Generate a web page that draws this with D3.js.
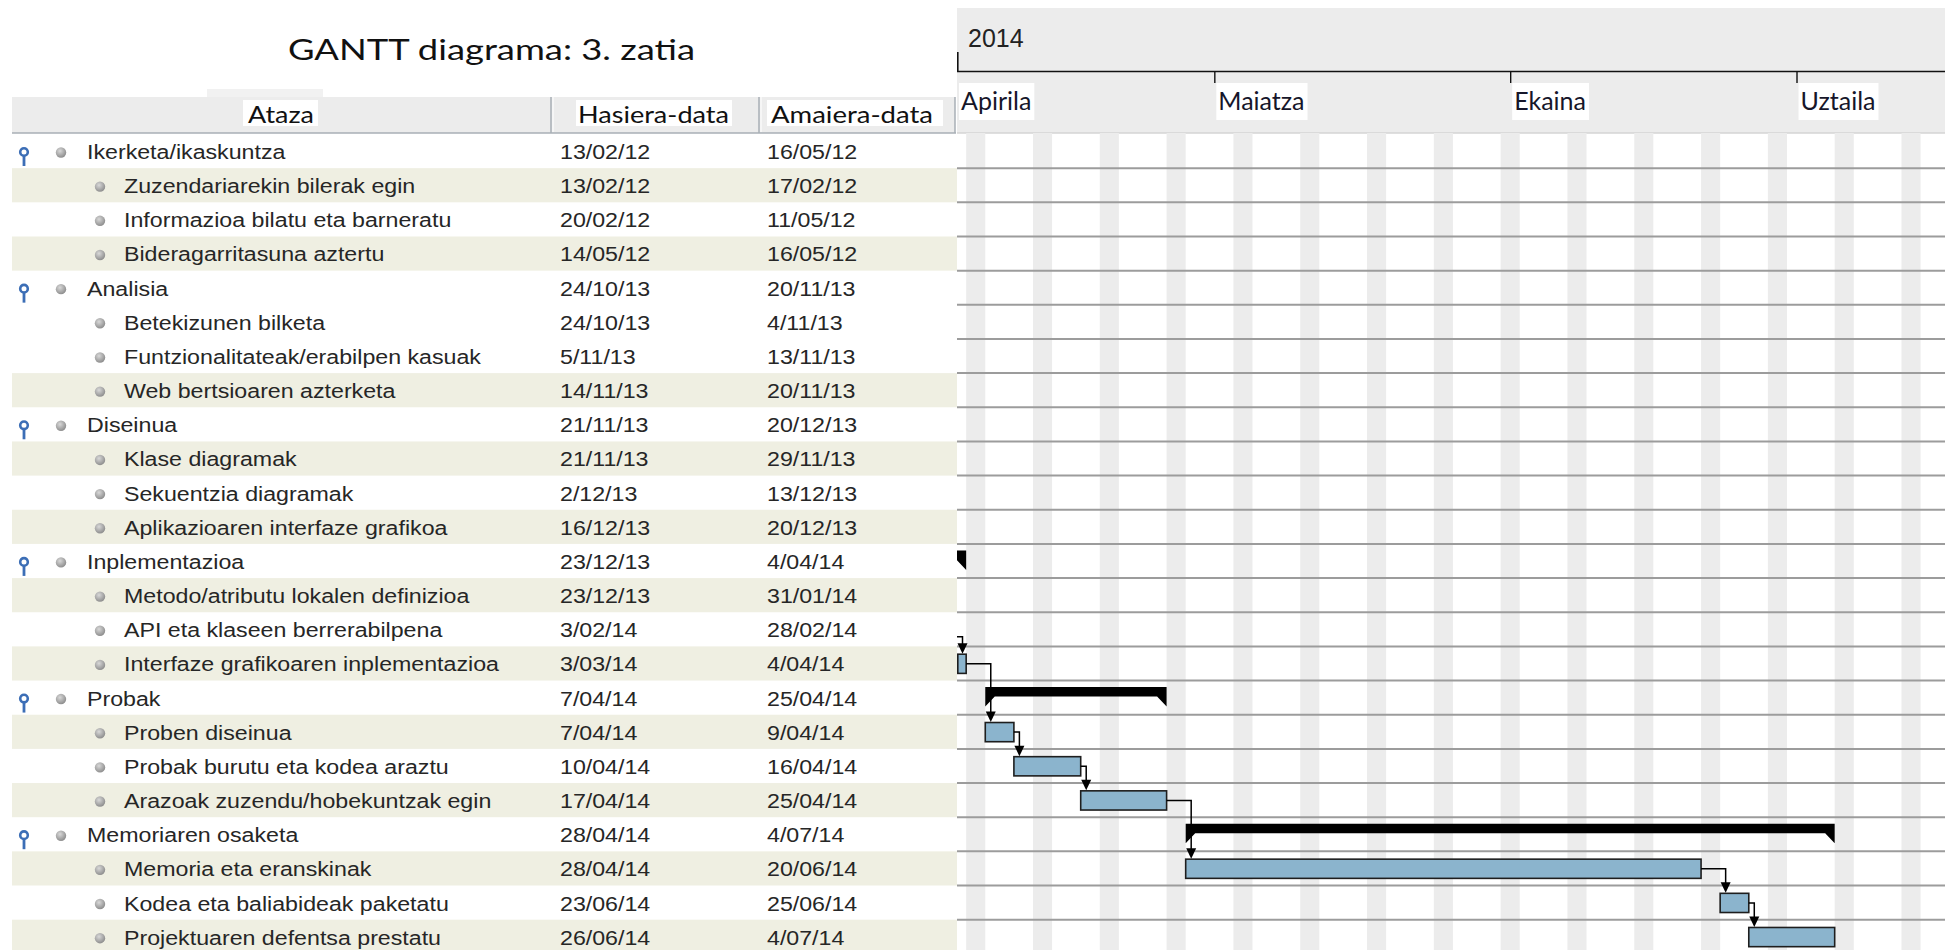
<!DOCTYPE html>
<html>
<head>
<meta charset="utf-8">
<script src="https://cdn.jsdelivr.net/npm/d3@7"></script>
<style>
  body { margin: 0; background: #fff; overflow: hidden; }
  svg { display: block; }
</style>
</head>
<body>
<script>
const width = 1945, height = 950;

// ---- data ----
const title = "GANTT diagrama: 3. zatia";
const columnHeaders = ["Ataza", "Hasiera-data", "Amaiera-data"];

const taskNames = [
  "Ikerketa/ikaskuntza",
  "Zuzendariarekin bilerak egin",
  "Informazioa bilatu eta barneratu",
  "Bideragarritasuna aztertu",
  "Analisia",
  "Betekizunen bilketa",
  "Funtzionalitateak/erabilpen kasuak",
  "Web bertsioaren azterketa",
  "Diseinua",
  "Klase diagramak",
  "Sekuentzia diagramak",
  "Aplikazioaren interfaze grafikoa",
  "Inplementazioa",
  "Metodo/atributu lokalen definizioa",
  "API eta klaseen berrerabilpena",
  "Interfaze grafikoaren inplementazioa",
  "Probak",
  "Proben diseinua",
  "Probak burutu eta kodea araztu",
  "Arazoak zuzendu/hobekuntzak egin",
  "Memoriaren osaketa",
  "Memoria eta eranskinak",
  "Kodea eta baliabideak paketatu",
  "Projektuaren defentsa prestatu"
];
// 0 = summary task, 1 = sub task
const taskLevels = [0,1,1,1, 0,1,1,1, 0,1,1,1, 0,1,1,1, 0,1,1,1, 0,1,1,1];
const startDates = [
  "13/02/12", "13/02/12", "20/02/12", "14/05/12",
  "24/10/13", "24/10/13", "5/11/13", "14/11/13",
  "21/11/13", "21/11/13", "2/12/13", "16/12/13",
  "23/12/13", "23/12/13", "3/02/14", "3/03/14",
  "7/04/14", "7/04/14", "10/04/14", "17/04/14",
  "28/04/14", "28/04/14", "23/06/14", "26/06/14"
];
const endDates = [
  "16/05/12", "17/02/12", "11/05/12", "16/05/12",
  "20/11/13", "4/11/13", "13/11/13", "20/11/13",
  "20/12/13", "29/11/13", "13/12/13", "20/12/13",
  "4/04/14", "31/01/14", "28/02/14", "4/04/14",
  "25/04/14", "9/04/14", "16/04/14", "25/04/14",
  "4/07/14", "20/06/14", "25/06/14", "4/07/14"
];
const shadedRows = [1, 3, 7, 9, 11, 13, 15, 17, 19, 21, 23];
// [predecessor, successor]
const links = [[13, 14], [14, 15], [15, 17], [17, 18], [18, 19], [19, 21], [21, 22], [22, 23]];

const yearLabel = "2014";
const monthLabels = ["Apirila", "Maiatza", "Ekaina", "Uztaila"];
const monthStarts = ["1/04/14", "1/05/14", "1/06/14", "1/07/14"];

// ---- helpers ----
const parseDate = s => {
  const [d, m, y] = s.split("/").map(Number);
  return new Date(2000 + y, m - 1, d);
};
const endExcl = s => d3.timeDay.offset(parseDate(s), 1);

const viewLeft = 957;
const x = d3.scaleTime()
  .domain([parseDate("1/04/14"), parseDate("17/07/14")])
  .range([928, 928 + 107 * 9.544]);
const y = d3.scaleBand()
  .domain(d3.range(taskNames.length))
  .range([134, 134 + taskNames.length * 34.16]);
const rowH = y.step();

const svg = d3.select("body").append("svg")
  .attr("width", width).attr("height", height);

const defs = svg.append("defs");
defs.append("clipPath").attr("id", "ganttClip")
  .append("rect").attr("x", viewLeft).attr("y", 133).attr("width", width - viewLeft).attr("height", height - 133);
defs.append("clipPath").attr("id", "headClip")
  .append("rect").attr("x", viewLeft).attr("y", 0).attr("width", width - viewLeft).attr("height", 133);
const grad = defs.append("radialGradient").attr("id", "dotGrad").attr("cx", "40%").attr("cy", "35%").attr("r", "65%");
grad.append("stop").attr("offset", "0%").attr("stop-color", "#d8d8d8");
grad.append("stop").attr("offset", "100%").attr("stop-color", "#8e8e8e");

const textFont = "'Liberation Sans', Arial, sans-serif";
const headFont = "Lato, 'Open Sans', sans-serif";

// ---- title ----
svg.append("text")
  .attr("x", 288).attr("y", 60)
  .attr("textLength", 407).attr("lengthAdjust", "spacingAndGlyphs")
  .attr("font-family", headFont).attr("font-size", 28)
  .attr("fill", "#111")
  .text(title);

// ---- table header ----
const colEdges = [12, 551, 759, 955];
svg.append("rect").attr("x", 207).attr("y", 89).attr("width", 116).attr("height", 8).attr("fill", "#f1f1f1");
svg.append("rect").attr("x", 12).attr("y", 97).attr("width", 943).attr("height", 36).attr("fill", "#ececec");
svg.append("line").attr("x1", 12).attr("x2", 956).attr("y1", 133).attr("y2", 133)
  .attr("stroke", "#a9afb6").attr("stroke-width", 1.5);
colEdges.slice(1).forEach(cx => {
  svg.append("line").attr("x1", cx).attr("x2", cx).attr("y1", 97).attr("y2", 133)
    .attr("stroke", "#a9afb6").attr("stroke-width", 1.5);
  svg.append("line").attr("x1", cx + 2).attr("x2", cx + 2).attr("y1", 97).attr("y2", 132)
    .attr("stroke", "#ffffff").attr("stroke-width", 1);
});
const headerBoxes = [[243, 75], [576, 156], [767, 176]];
const headerWidths = [66, 151, 162];
const headerLeft = [248, 578, 771];
columnHeaders.forEach((h, i) => {
  svg.append("rect").attr("x", headerBoxes[i][0]).attr("y", 100)
    .attr("width", headerBoxes[i][1]).attr("height", 26).attr("fill", "#fff");
  svg.append("text")
    .attr("x", headerLeft[i]).attr("y", 123)
    .attr("textLength", headerWidths[i]).attr("lengthAdjust", "spacingAndGlyphs")
    .attr("font-family", headFont).attr("font-size", 23).attr("fill", "#111")
    .text(h);
});

// ---- table rows ----
const rows = svg.append("g");
rows.selectAll("rect.band")
  .data(shadedRows)
  .join("rect")
  .attr("class", "band")
  .attr("x", 12).attr("width", viewLeft - 12)
  .attr("y", d => y(d)).attr("height", rowH)
  .attr("fill", "#efefe2");

const row = rows.selectAll("g.row")
  .data(taskNames.map((name, i) => ({ name, i, level: taskLevels[i], start: startDates[i], end: endDates[i] })))
  .join("g").attr("class", "row")
  .attr("transform", d => `translate(0,${y(d.i)})`);

const pins = row.filter(d => d.level === 0);
pins.append("line").attr("x1", 24).attr("x2", 24).attr("y1", 22).attr("y2", 32)
  .attr("stroke", "#3c6eb6").attr("stroke-width", 2.8);
pins.append("circle").attr("cx", 24).attr("cy", 18).attr("r", 3.8)
  .attr("fill", "#fff").attr("stroke", "#3c6eb6").attr("stroke-width", 2.6);

row.append("circle")
  .attr("cx", d => d.level === 0 ? 61 : 100).attr("cy", 18.5).attr("r", 5.2)
  .attr("fill", "url(#dotGrad)");

const sx = 1.16;
const cellText = (sel, xf, tf) => sel.append("text")
  .attr("transform", d => `translate(${xf(d)},25) scale(${sx},1)`)
  .attr("font-family", textFont).attr("font-size", 20).attr("fill", "#262626")
  .text(tf);
cellText(row, d => d.level === 0 ? 87 : 124, d => d.name);
cellText(row, () => 560, d => d.start);
cellText(row, () => 767, d => d.end);

// ---- gantt header ----
svg.append("rect").attr("x", viewLeft).attr("y", 8).attr("width", width - viewLeft).attr("height", 125)
  .attr("fill", "#ececec");
svg.append("line").attr("x1", viewLeft).attr("x2", width).attr("y1", 133).attr("y2", 133)
  .attr("stroke", "#d4d4d4").attr("stroke-width", 1.5);
svg.append("text").attr("x", 968).attr("y", 47)
  .attr("font-family", textFont).attr("font-size", 25).attr("fill", "#222")
  .text(yearLabel);

const head = svg.append("g").attr("clip-path", "url(#headClip)");
const monthAxis = head.append("g")
  .attr("transform", "translate(0,71)")
  .call(d3.axisBottom(x).tickValues(monthStarts.map(parseDate)).tickSize(12).tickSizeOuter(0).tickFormat(""));
monthAxis.select(".domain").attr("stroke", "#111").attr("stroke-width", 1.6);
monthAxis.selectAll(".tick line").attr("stroke", "#111").attr("stroke-width", 1.4);
head.append("line").attr("x1", viewLeft + 0.8).attr("x2", viewLeft + 0.8).attr("y1", 52).attr("y2", 71)
  .attr("stroke", "#111").attr("stroke-width", 1.6);

monthLabels.forEach((m, i) => {
  const lx = Math.max(x(parseDate(monthStarts[i])), viewLeft) + 4;
  const box = svg.append("rect").attr("y", 83).attr("height", 37).attr("fill", "#fff");
  const t = svg.append("text").attr("x", lx).attr("y", 110)
    .attr("font-family", headFont).attr("font-size", 25).attr("fill", "#16162a")
    .text(m);
  const w = t.node().getComputedTextLength();
  box.attr("x", lx - 2).attr("width", w + 5);
});

// ---- gantt body ----
const g = svg.append("g").attr("clip-path", "url(#ganttClip)");

const [d0, d1] = x.domain();
g.selectAll("rect.weekend")
  .data(d3.timeSaturday.range(d3.timeDay.offset(d0, -7), d1))
  .join("rect").attr("class", "weekend")
  .attr("x", d => x(d)).attr("width", d => x(d3.timeDay.offset(d, 2)) - x(d))
  .attr("y", 133).attr("height", height - 133)
  .attr("fill", "#ececec");

g.selectAll("line.grid")
  .data(d3.range(1, taskNames.length + 1))
  .join("line").attr("class", "grid")
  .attr("x1", viewLeft).attr("x2", width)
  .attr("y1", d => y(0) + d * rowH).attr("y2", d => y(0) + d * rowH)
  .attr("stroke", "#9c9c9c").attr("stroke-width", 2);

// sub task bars
const subs = d3.range(taskNames.length).filter(i => taskLevels[i] === 1 && x(endExcl(endDates[i])) > viewLeft);
g.selectAll("rect.bar")
  .data(subs)
  .join("rect").attr("class", "bar")
  .attr("x", i => Math.max(x(parseDate(startDates[i])), viewLeft + 0.8))
  .attr("width", i => x(endExcl(endDates[i])) - Math.max(x(parseDate(startDates[i])), viewLeft + 0.8))
  .attr("y", i => y(i) + 7.8).attr("height", 19.2)
  .attr("fill", "#8bb4cd").attr("stroke", "#1e1e1e").attr("stroke-width", 1.6);

// summary bars
const sums = d3.range(taskNames.length).filter(i => taskLevels[i] === 0 && x(endExcl(endDates[i])) > viewLeft);
const capW = 9.5;
g.selectAll("polygon.summary")
  .data(sums)
  .join("polygon").attr("class", "summary")
  .attr("points", i => {
    const a = x(parseDate(startDates[i])), b = x(endExcl(endDates[i]));
    const t = y(i) + 6.5, m = t + 9.5, bt = y(i) + 26;
    return [[a, t], [b, t], [b, bt], [b - capW, m], [a + capW, m], [a, bt]].join(" ");
  })
  .attr("fill", "#000");

// dependency links
const visibleLinks = links.filter(([p, s]) => x(endExcl(endDates[s])) > viewLeft);
visibleLinks.forEach(([p, s]) => {
  const predEnd = x(endExcl(endDates[p]));
  const pe = Math.max(predEnd, viewLeft);
  const xv = Math.max(x(parseDate(startDates[s])), viewLeft) + 5.5;
  const yt = y(s) + 7.8;
  // predecessor scrolled out of view: only the stub above the successor shows
  const yp = predEnd < viewLeft ? yt - 17.5 : y(p) + 17.4;
  g.append("path")
    .attr("d", `M${pe},${yp}H${xv}V${yt - 9}`)
    .attr("fill", "none").attr("stroke", "#000").attr("stroke-width", 1.5);
  g.append("polygon")
    .attr("points", [[xv - 5, yt - 11], [xv + 5, yt - 11], [xv, yt - 0.5]].join(" "))
    .attr("fill", "#000");
});
</script>
</body>
</html>
